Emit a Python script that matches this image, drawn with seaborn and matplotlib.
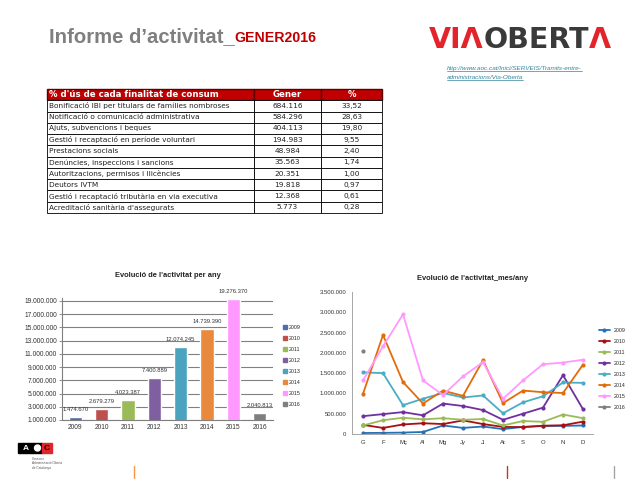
import matplotlib
matplotlib.use("Agg")
import matplotlib.pyplot as plt
import matplotlib.patches as mpatches
from matplotlib.lines import Line2D
from matplotlib.table import Table
import seaborn as sns
import pandas as pd

# Taula: finalitats de consum (gener 2016)
finalitats = [
    "Bonificació IBI per titulars de famílies nombroses",
    "Notificació o comunicació administrativa",
    "Ajuts, subvencions i beques",
    "Gestió i recaptació en període voluntari",
    "Prestacions socials",
    "Denúncies, inspeccions i sancions",
    "Autoritzacions, permisos i llicències",
    "Deutors IVTM",
    "Gestió i recaptació tributària en via executiva",
    "Acreditació sanitària d'assegurats",
]
gener = [684116, 584296, 404113, 194983, 48984, 35563, 20351, 19818, 12368, 5773]
percent = [33.52, 28.63, 19.80, 9.55, 2.40, 1.74, 1.00, 0.97, 0.61, 0.28]

# Evolució per any
anys = ["2009", "2010", "2011", "2012", "2013", "2014", "2015", "2016"]
total_any = [1474670, 2679279, 4023387, 7400889, 12074245, 14739390, 19276370, 2040813]

# Evolució mes/any
mesos = ["G", "F", "Mç", "Al", "Mg", "Jy", "Jl", "At", "S", "O", "N", "D"]
mes_2009 = [25000, 28000, 35000, 50000, 210000, 150000, 185000, 120000, 175000, 195000, 200000, 210000]
mes_2010 = [225000, 150000, 235000, 265000, 245000, 335000, 245000, 175000, 170000, 205000, 215000, 305000]
mes_2011 = [210000, 340000, 400000, 360000, 390000, 350000, 370000, 210000, 320000, 300000, 480000, 390000]
mes_2012 = [440000, 490000, 540000, 460000, 750000, 690000, 590000, 350000, 500000, 650000, 1450000, 610000]
mes_2013 = [1520000, 1500000, 710000, 870000, 1010000, 900000, 950000, 510000, 780000, 930000, 1270000, 1260000]
mes_2014 = [990000, 2440000, 1280000, 750000, 1070000, 940000, 1820000, 760000, 1070000, 1030000, 1010000, 1710000]
mes_2015 = [1320000, 2160000, 2950000, 1320000, 960000, 1420000, 1770000, 870000, 1320000, 1720000, 1760000, 1830000]
mes_2016 = [2040813]
series_mes = [mes_2009, mes_2010, mes_2011, mes_2012, mes_2013, mes_2014, mes_2015, mes_2016]

colors_barres = ["#4F6FA6", "#C0504D", "#9BBB59", "#7F5F9F", "#4BA3C0", "#E8893D", "#FF99FF", "#7F7F7F"]
colors_linies = ["#2372B8", "#A80F12", "#9BBB59", "#7030A0", "#4BACC6", "#E36C0A", "#FF99FF", "#7F7F7F"]


def punts(v):
    return f"{v:,}".replace(",", ".")


sns.set_theme(style="white")
plt.rcParams['font.family'] = ['Liberation Sans', 'DejaVu Sans']

W, H = 638, 479
fig = plt.figure(figsize=(W / 100, H / 100), dpi=100)
bg = fig.add_axes([0, 0, 1, 1])
bg.set_axis_off()
bg.set_xlim(0, W)
bg.set_ylim(H, 0)


def fy(y):
    return 1 - y / H


# Títol
t1 = fig.text(49 / W, fy(41.7), "Informe d’activitat_", fontsize=14.6, fontweight="bold",
              color="#7F7F7F", va="baseline")
# Logo Via Oberta
l1 = fig.text(429 / W, fy(48.3), "VIΛ", fontsize=20.5, fontweight="heavy",
              family="DejaVu Sans", color="#E3242B", va="baseline")
fig.canvas.draw()
r = fig.canvas.get_renderer()
bb = t1.get_window_extent(r)
fig.text(bb.x1 / W, fy(41.7), "GENER2016", fontsize=10.2, fontweight="bold",
         color="#C00000", va="baseline")
bb = l1.get_window_extent(r)
l2 = fig.text(bb.x1 / W, fy(48.3), "OBERT", fontsize=20.5, fontweight="heavy",
              family="DejaVu Sans", color="#3A3A3A", va="baseline")
fig.canvas.draw()
bb = l2.get_window_extent(r)
fig.text(bb.x1 / W, fy(48.3), "Λ", fontsize=20.5, fontweight="heavy",
         family="DejaVu Sans", color="#E3242B", va="baseline")

# Enllaç
for txt, yb in [("http://www.aoc.cat/Inici/SERVEIS/Tramits-entre-", 70),
                ("administracions/Via-Oberta", 79)]:
    tl = fig.text(447 / W, fy(yb), txt, fontsize=4.6, style="italic",
                  color="#31859C", va="baseline")
    fig.canvas.draw()
    e = tl.get_window_extent(r)
    bg.plot([e.x0, e.x1], [yb + 1, yb + 1], color="#31859C", lw=0.5)

# Taula
ax_t = fig.add_axes([47 / W, fy(213), 335 / W, 124 / H])
ax_t.set_axis_off()
tbl = Table(ax_t, bbox=[0, 0, 1, 1])
amples = [0.618, 0.2, 0.182]
capcalera = ["% d'ús de cada finalitat de consum", "Gener", "%"]
nfiles = len(finalitats) + 1
for c, txt in enumerate(capcalera):
    cell = tbl.add_cell(0, c, amples[c], 1 / nfiles, text=txt,
                        loc="left" if c == 0 else "center",
                        facecolor="#C00000", edgecolor="#5A0000")
    cell.PAD = 0.01
    cell.get_text().set_color("white")
    cell.get_text().set_fontweight("bold")
    cell.get_text().set_fontsize(6.2)
    cell.get_text().set_family("DejaVu Sans")
for i, (f, g, p) in enumerate(zip(finalitats, gener, percent), start=1):
    fila = [f, punts(g), f"{p:.2f}".replace(".", ",")]
    for c, txt in enumerate(fila):
        cell = tbl.add_cell(i, c, amples[c], 1 / nfiles, text=txt,
                            loc="left" if c == 0 else "center",
                            facecolor="white", edgecolor="black")
        cell.PAD = 0.01
        cell.set_linewidth(0.6)
        cell.get_text().set_fontsize(5.3)
        cell.get_text().set_family("DejaVu Sans")
        cell.get_text().set_color("#222222")
tbl.auto_set_font_size(False)
ax_t.add_table(tbl)

# Gràfic de barres per any
ax1 = fig.add_axes([62 / W, fy(420), 211 / W, (420 - 298) / H])
ax1.set_facecolor("none")
yt = list(range(1000000, 19000001, 2000000))
df_any = pd.DataFrame({"any": anys, "total": total_any})
sns.barplot(data=df_any, x="any", y="total", hue="any", palette=colors_barres,
            width=0.5, legend=False, ax=ax1, saturation=1, zorder=3)
# línies de quadrícula a cada marca de l'eix
ax1.hlines(yt, -0.5, 7.5, colors="#808080", linewidth=0.8, zorder=1)
ax1.set_ylim(1000000, 19450000)
ax1.set_xlim(-0.5, 7.5)
ax1.set_yticks(yt)
ax1.set_yticklabels([punts(v) for v in yt])
ax1.set_xlabel("")
ax1.set_ylabel("")
for s in ["top", "right"]:
    ax1.spines[s].set_visible(False)
for s in ["left", "bottom"]:
    ax1.spines[s].set_visible(True)
    ax1.spines[s].set_color("#7F7F7F")
    ax1.spines[s].set_linewidth(0.8)
ax1.tick_params(axis="y", labelsize=4.8, length=2, width=0.6, color="#7F7F7F",
                left=True, pad=1.5, labelcolor="#333333")
ax1.tick_params(axis="x", labelsize=4.8, length=0, pad=3, labelcolor="#333333")
for cont, v in zip(ax1.containers, total_any):
    ax1.bar_label(cont, labels=[punts(v)], fontsize=4.2, padding=3.5, color="#333333")
ax1.set_title("Evolució de l'activitat per any", fontsize=5.4, fontweight="bold",
              color="#222222", pad=15)
hand_b = [mpatches.Patch(color=c, label=a) for c, a in zip(colors_barres, anys)]
fig.legend(handles=hand_b, loc="upper left", bbox_to_anchor=(280 / W, fy(322)),
           frameon=False, fontsize=3.8, handlelength=0.8, handleheight=0.8,
           labelspacing=1.15, handletextpad=0.4, borderpad=0)

# Gràfic de línies mes/any
ax2 = fig.add_axes([352 / W, fy(434), 241 / W, 142 / H])
files = []
for a, vals in zip(anys, series_mes):
    for m, v in enumerate(vals):
        files.append({"any": a, "mes": m, "valor": v})
df_mes = pd.DataFrame(files)
sns.lineplot(data=df_mes, x="mes", y="valor", hue="any", palette=colors_linies,
             marker="o", markersize=3, markeredgewidth=0, linewidth=1.3,
             legend=False, ax=ax2)
ax2.set_ylim(0, 3500000)
ax2.set_xlim(-0.55, 11.5)
yt2 = list(range(0, 3500001, 500000))
ax2.set_yticks(yt2)
ax2.set_yticklabels([punts(v) for v in yt2])
ax2.set_xticks(range(len(mesos)))
ax2.set_xticklabels(mesos)
ax2.set_xlabel("")
ax2.set_ylabel("")
for s in ["top", "right"]:
    ax2.spines[s].set_visible(False)
for s in ["left", "bottom"]:
    ax2.spines[s].set_color("#A6A6A6")
    ax2.spines[s].set_linewidth(0.7)
ax2.tick_params(axis="both", labelsize=4.3, length=0, pad=4, labelcolor="#333333")
ax2.set_title("Evolució de l'activitat_mes/any", fontsize=5.4, fontweight="bold",
              color="#222222", pad=9)
hand_l = [Line2D([0], [0], color=c, lw=1.3, marker="o", markersize=3, markeredgewidth=0, label=a)
          for c, a in zip(colors_linies, anys)]
fig.legend(handles=hand_l, loc="upper left", bbox_to_anchor=(596 / W, fy(325)),
           frameon=False, fontsize=3.8, handlelength=2.2, labelspacing=1.15,
           handletextpad=0.6, borderpad=0)

# Logo AOC
bg.add_patch(mpatches.Rectangle((18, 443), 15, 10, color="black"))
bg.text(25.5, 448.5, "A", color="white", fontsize=6, fontweight="bold", ha="center", va="center")
bg.add_patch(mpatches.Rectangle((33, 443), 9, 10, color="black"))
bg.add_patch(mpatches.Circle((37.5, 448), 3, color="white"))
bg.add_patch(mpatches.Rectangle((42, 443), 10, 10, color="#E3242B"))
bg.text(47, 448.5, "C", color="black", fontsize=6, fontweight="bold", ha="center", va="center")
bg.text(32, 457, "Consorci\nAdministració Oberta\nde Catalunya", fontsize=2.3, color="#555555",
        va="top", linespacing=1.1)

# Marques inferiors
for x, c in [(134, "#F79646"), (507, "#C0392B"), (614, "#A6A6A6")]:
    bg.plot([x, x], [466, 478], color=c, lw=1)

fig.savefig("out.png", dpi=100)
